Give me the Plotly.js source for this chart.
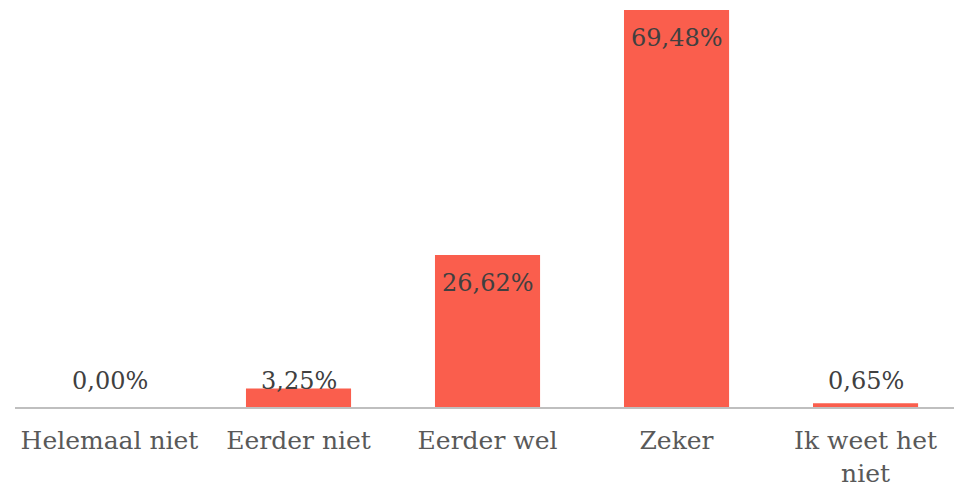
<!DOCTYPE html>
<html>
<head>
<meta charset="utf-8">
<script src="https://cdn.plot.ly/plotly-3.0.1.min.js"></script>
<style>html,body{margin:0;padding:0;background:#fff;}#chart{width:954px;height:487px;}</style>
</head>
<body>
<div id="chart"></div>
<script>
const categories = ["Helemaal niet", "Eerder niet", "Eerder wel", "Zeker", "Ik weet het<br>niet"];
const values = [0.00, 3.25, 26.62, 69.48, 0.65];
const valueLabels = ["0,00%", "3,25%", "26,62%", "69,48%", "0,65%"];

const FONT = "'DejaVu Serif', 'Liberation Serif', serif";
const barColor = "#FA5E4D";

const annotations = values.map((v, i) => {
  const small = v < 10;
  return {
    x: categories[i], y: small ? 0 : v, xref: 'x', yref: 'y',
    text: valueLabels[i], showarrow: false,
    yanchor: 'middle', xanchor: 'center',
    yshift: small ? 26 : -28,
    font: {family: FONT, size: 24, color: '#404040'}
  };
});

const data = [{
  type: 'bar', x: categories, y: values,
  marker: {color: barColor},
  hoverinfo: 'none'
}];

const layout = {
  width: 954, height: 487,
  margin: {l: 15, r: 0, t: 7, b: 80},
  paper_bgcolor: '#ffffff', plot_bgcolor: '#ffffff',
  bargap: 0.444,
  showlegend: false,
  xaxis: {
    type: 'category', range: [-0.5, 4.468],
    showline: true, linecolor: '#BFBFBF', linewidth: 2,
    showgrid: false, zeroline: false, ticks: '',
    ticklabelstandoff: 10,
    tickfont: {family: FONT, size: 25, color: '#595959'},
    fixedrange: true
  },
  yaxis: {
    range: [0, 70], visible: false, showgrid: false, zeroline: false, fixedrange: true
  },
  annotations: annotations
};

Plotly.newPlot('chart', data, layout, {displayModeBar: false, staticPlot: true});
</script>
</body>
</html>
